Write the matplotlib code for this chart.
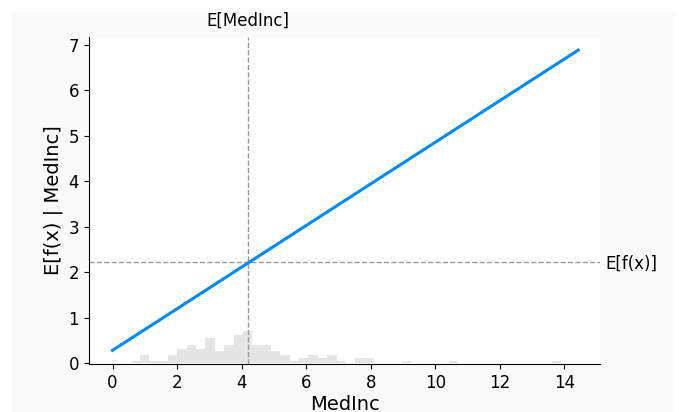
import matplotlib
matplotlib.use("Agg")
import matplotlib.pyplot as plt
from matplotlib.patches import Rectangle

# partial dependence line (linear model on MedInc)
pd_x = [0.0, 14.43]
pd_y = [0.28, 6.89]

# expected values
mean_medinc = 4.2
mean_fx = 2.22

# background histogram of MedInc (bin left edges, bar heights in y units)
bin_width = 0.29
bin_left = [0.56 + bin_width * i for i in range(46)]
bin_height = [0.05, 0.18, 0.05, 0.05, 0.18, 0.31, 0.39, 0.31, 0.55, 0.26,
              0.39, 0.62, 0.70, 0.39, 0.39, 0.26, 0.18, 0.05, 0.11, 0.18,
              0.11, 0.18, 0.05, 0.0, 0.11, 0.11, 0.0, 0.0, 0.0, 0.05,
              0.0, 0.0, 0.0, 0.0, 0.05, 0.0, 0.0, 0.0, 0.0, 0.0,
              0.0, 0.0, 0.0, 0.0, 0.0, 0.05]

fig = plt.figure(figsize=(6.79, 4.12), dpi=100, facecolor="white")
fig.patches.append(Rectangle((12 / 679, 0), 663 / 679, 400 / 412,
                             transform=fig.transFigure, facecolor="#fafafa",
                             edgecolor="none", zorder=-10))
ax = fig.add_axes([0.131, 0.1165, 0.753, 0.794])
ax.set_facecolor("white")

ax.bar(bin_left, bin_height, width=bin_width, align="edge",
       color="#000000", alpha=0.1, linewidth=0, zorder=1)
ax.plot(pd_x, pd_y, color="#008bfb", lw=2.2, zorder=3)

ax.axvline(mean_medinc, color="#999999", lw=1, ls="--", zorder=2)
ax.axhline(mean_fx, color="#999999", lw=1, ls="--", zorder=2)

ax.set_xlim(-0.73, 15.11)
ax.set_ylim(-0.02, 7.18)
ax.set_xticks(range(0, 15, 2))
ax.set_yticks(range(0, 8))
ax.tick_params(labelsize=12)
for s in ["top", "right"]:
    ax.spines[s].set_visible(False)
ax.set_xlabel("MedInc", fontsize=14, labelpad=2)
ax.set_ylabel("E[f(x) | MedInc]", fontsize=14)

# labels for the expected values, shap style twin axes
ax2 = ax.twiny()
ax2.set_xlim(ax.get_xlim())
ax2.set_xticks([mean_medinc])
ax2.set_xticklabels(["E[MedInc]"], fontsize=12)
ax2.tick_params(length=0, pad=5)
ax3 = ax.twinx()
ax3.set_ylim(ax.get_ylim())
ax3.set_yticks([mean_fx])
ax3.set_yticklabels(["E[f(x)]"], fontsize=12)
ax3.tick_params(length=0, pad=4)
for a in (ax2, ax3):
    for s in a.spines.values():
        s.set_visible(False)

fig.savefig("out.png", dpi=100, facecolor=fig.get_facecolor())
